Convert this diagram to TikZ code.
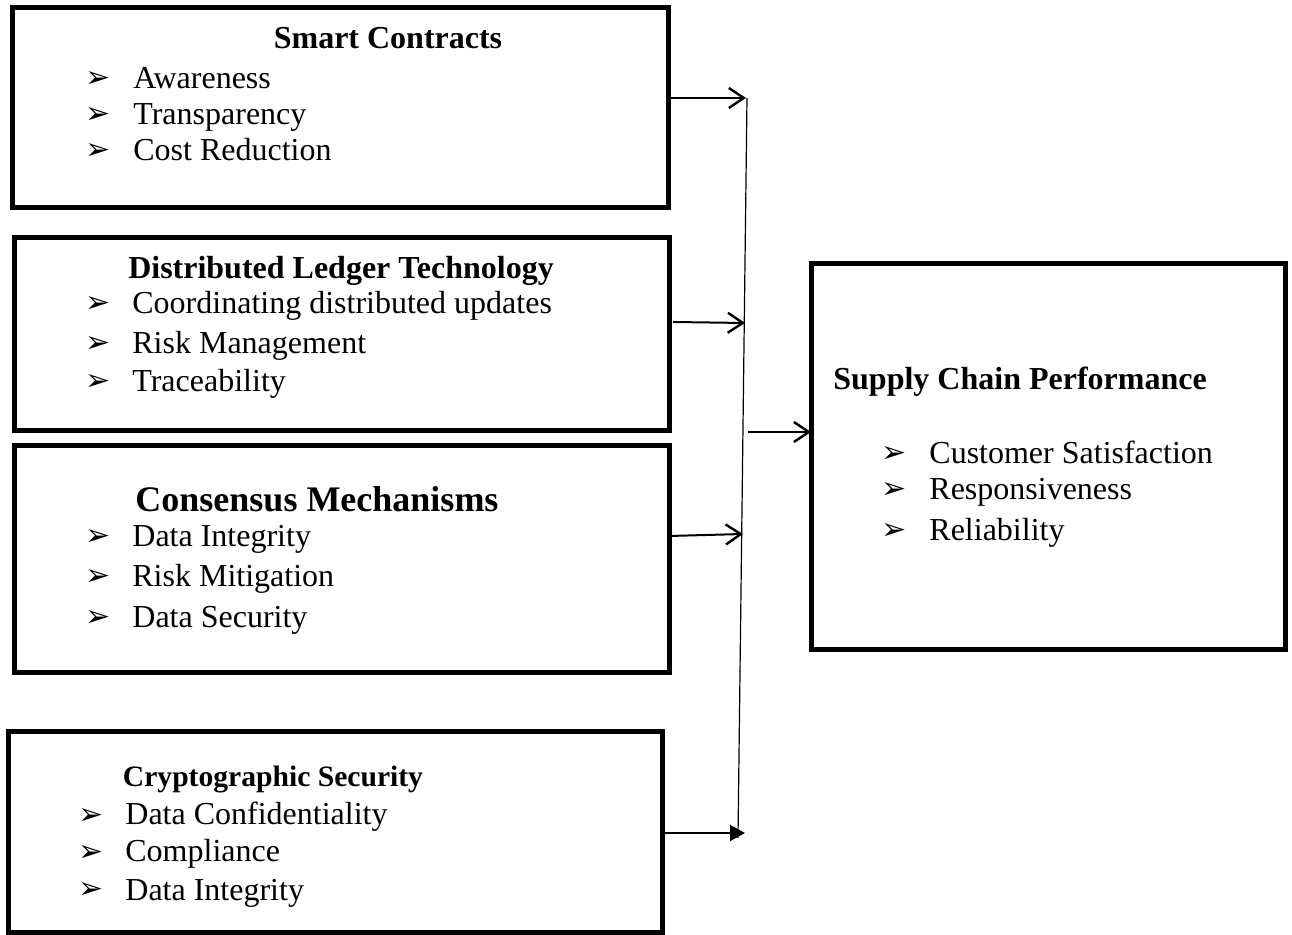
\documentclass[tikz,border=0pt]{standalone}
\usepackage{fontspec}
\setmainfont{Liberation Serif}
\newfontfamily\symfont{DejaVu Sans}
\usetikzlibrary{arrows.meta}
\tikzset{
  box/.style={draw, line width=2.5pt, rectangle, inner sep=0pt, outer sep=0pt},
  title/.style={font=\fontsize{16}{19}\selectfont\bfseries, anchor=base, inner sep=0pt},
  item/.style={font=\fontsize{16}{19}\selectfont, anchor=base west, inner sep=0pt},
  bul/.style={font=\symfont\fontsize{15}{18}\selectfont, anchor=base west, inner sep=0pt},
  conn/.style={line width=1pt, -{Straight Barb[length=7.5pt,width=10pt,line width=1.2pt]}},
  connf/.style={line width=1pt, -{Triangle[length=7.5pt,width=8pt]}},
  trunk/.style={line width=0.6pt}
}
\begin{document}
\begin{tikzpicture}[x=0.5pt,y=-0.5pt]
\useasboundingbox (0,0) rectangle (1292,935);
% boxes
\node[box, minimum width=328pt, minimum height=100pt] (b1) at (340,108) {};
\node[box, minimum width=327.5pt, minimum height=96.5pt] (b2) at (341.5,334.5) {};
\node[box, minimum width=327.5pt, minimum height=113.5pt] (b3) at (341.5,559.5) {};
\node[box, minimum width=327pt, minimum height=100pt] (b4) at (335,832) {};
\node[box, minimum width=237pt, minimum height=193pt] (b5) at (1048,457) {};
% box 1
\node[title] (t1) at (388,49) {Smart Contracts};
\node[bul] (p11) at (85,88) {➢}; \node[item] (i11) at (133,89) {Awareness};
\node[bul] (p12) at (85,124) {➢}; \node[item] (i12) at (133,125) {Transparency};
\node[bul] (p13) at (85,160) {➢}; \node[item] (i13) at (133,161) {Cost Reduction};
% box 2
\node[title] (t2) at (341,279) {Distributed Ledger Technology};
\node[bul] (p21) at (85,313) {➢}; \node[item] (i21) at (132,314) {Coordinating distributed updates};
\node[bul] (p22) at (85,353) {➢}; \node[item] (i22) at (132,354) {Risk Management};
\node[bul] (p23) at (85,391) {➢}; \node[item] (i23) at (132,392) {Traceability};
% box 3
\node[title, font=\fontsize{18}{21}\selectfont\bfseries] (t3) at (317,512) {Consensus Mechanisms};
\node[bul] (p31) at (85,546) {➢}; \node[item] (i31) at (132,547) {Data Integrity};
\node[bul] (p32) at (85,586) {➢}; \node[item] (i32) at (132,587) {Risk Mitigation};
\node[bul] (p33) at (85,627) {➢}; \node[item] (i33) at (132,628) {Data Security};
% box 4
\node[title, font=\fontsize{14.8}{18}\selectfont\bfseries] (t4) at (273,786) {Cryptographic Security};
\node[bul] (p41) at (78,824) {➢}; \node[item] (i41) at (125,825) {Data Confidentiality};
\node[bul] (p42) at (78,861) {➢}; \node[item] (i42) at (125,862) {Compliance};
\node[bul] (p43) at (78,899) {➢}; \node[item] (i43) at (125,900) {Data Integrity};
% box 5
\node[title, anchor=base west] (t5) at (833,390) {Supply Chain Performance};
\node[bul] (p51) at (881,463) {➢}; \node[item] (i51) at (929,464) {Customer Satisfaction};
\node[bul] (p52) at (881,499) {➢}; \node[item] (i52) at (929,500) {Responsiveness};
\node[bul] (p53) at (881,540) {➢}; \node[item] (i53) at (929,541) {Reliability};
% trunk
\coordinate (top) at (747,98);
\coordinate (bot) at (738,838);
\coordinate (j1) at (746,98);
\coordinate (j2) at (745,323);
\coordinate (j3) at (743,534);
\coordinate (j4) at (745,833);
\coordinate (s5) at (748,432);
\draw[trunk] (top) -- (bot);
\draw[conn] (b1.east |- j1) -- (j1);
\draw[conn] (673,322) -- (j2);
\draw[conn] (b3.east |- 0,536) -- (j3);
\draw[connf] (b4.east |- j4) -- (j4);
\draw[conn] (s5) -- (b5.west |- s5);
\end{tikzpicture}
\end{document}
